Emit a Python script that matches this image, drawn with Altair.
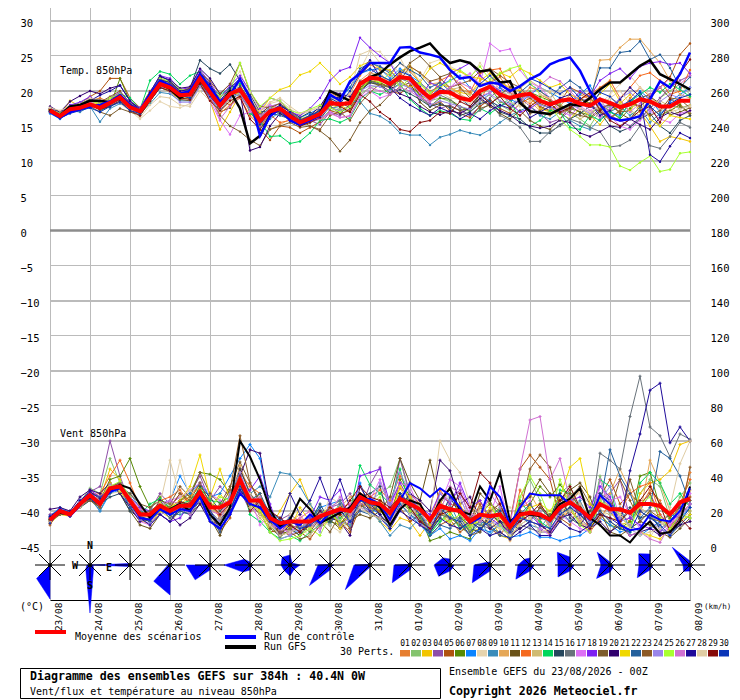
import altair as alt
import pandas as pd

days = ["23/08","24/08","25/08","26/08","27/08","28/08","29/08","30/08","31/08","01/09","02/09","03/09","04/09","05/09","06/09","07/09","08/09"]
palette = ["#e67e30","#84c46e","#f2c500","#8e4ea8","#b0520e","#578a04","#0a84ff","#e6d4ae","#3a8cba","#e5a757","#6a5218","#f5691e","#d0bb72","#00d75c","#26485e","#69737b","#dd70f5","#7d20f2","#7d5c2c","#31006f","#f0d800","#23609c","#8d5a26","#9a85ea","#a8ff30","#d070d2","#1e0a9a","#e0cda4","#860a0a","#0a35b8"]

# 850 hPa temperature, tenths of a degree C, 6-hourly
t_mean = [172,164,174,176,181,176,183,191,177,171,190,210,205, 194,195,218,198,179,196,202,181,157,171,175,164,155, 161,167,183,181,183,210,219,217,210,220,218,202,190, 199,198,190,187,200,206,195,190,194,196,186,181,186, 188,182,179,188,183,177,181,188,185,178,178,186,186]
t_ctrl = [170,162,170,174,178,180,185,194,180,172,195,215,208, 196,200,224,205,185,195,217,190,136,164,175,158,152, 158,165,195,186,214,225,240,240,240,262,263,255,252, 248,230,218,220,207,212,210,200,207,217,224,238,244, 248,229,200,181,162,158,160,164,188,214,205,224,255]
t_gfs = [173,165,178,180,186,186,184,190,180,170,195,210,203, 190,198,215,200,180,200,175,125,136,165,175,165,155, 160,168,200,193,186,210,220,225,238,248,257,262,268, 252,240,244,240,228,230,212,214,183,171,169,167,174, 181,179,190,202,212,212,224,236,244,224,217,210,202]

t01 = [175,166,176,180,186,190,184,193,180,170,188,212,210, 199,200,225,207,184,200,212,190,165,170,176,168,158, 162,176,198,190,196,222,238,230,222,240,228,212,200, 206,195,202,198,186,212,220,198,190,205,200,188,180, 172,195,188,175,182,168,190,205,192,178,170,182,165]
t02 = [171,163,172,175,180,178,186,188,176,172,186,205,200, 192,190,212,195,185,190,200,178,160,178,170,160,150, 155,160,172,175,170,195,205,208,200,212,205,195,186, 190,185,178,170,185,195,180,172,190,200,178,170,182, 168,160,150,172,178,186,170,160,175,190,200,210,195]
t03 = [172,165,186,178,179,174,180,185,172,168,185,206,198, 188,190,212,186,145,170,195,170,150,165,180,170,160, 165,170,175,180,172,205,215,212,205,228,236,210,195, 210,205,198,195,215,225,212,205,200,190,175,170,168, 160,175,165,152,170,182,195,170,150,128,135,132,128]
t04 = [174,167,178,182,190,185,188,195,180,175,195,218,212, 200,198,225,205,190,205,215,190,168,178,182,170,160, 158,152,170,165,175,200,225,235,228,215,205,190,182, 175,180,172,165,178,190,205,196,190,178,168,155,160, 172,185,190,178,165,158,150,162,175,190,205,215,222]
t05 = [174,168,176,182,192,200,218,218,190,176,200,216,212, 198,200,222,208,188,180,195,175,145,130,150,148,140, 148,156,172,168,172,198,215,208,200,196,208,196,178, 185,172,168,162,178,188,175,168,182,190,178,172,185, 205,198,190,175,160,172,182,178,190,205,220,252,268]
t06 = [170,163,175,176,184,172,178,218,185,170,192,214,208, 195,194,216,200,182,195,200,185,162,175,168,160,158, 165,172,176,172,178,205,214,212,205,218,216,192,178, 190,188,178,172,195,205,185,178,188,198,192,186,178, 175,170,165,180,172,160,175,190,178,165,172,180,168]
t07 = [168,160,172,174,176,182,178,186,176,166,186,208,204, 192,192,214,194,176,192,198,176,150,166,180,172,162, 168,176,192,188,205,225,230,232,218,232,222,212,198, 208,215,222,205,190,198,205,188,182,195,205,198,190, 182,195,208,180,170,165,182,200,188,170,185,195,205]
t08 = [176,170,178,180,188,184,190,182,172,160,172,185,178, 176,182,205,192,175,210,228,190,170,182,186,175,165, 172,178,190,184,195,230,258,256,240,225,230,215,240, 245,235,228,218,240,222,200,195,180,172,188,200,195, 190,175,168,182,195,210,222,205,195,172,178,165,170]
t09 = [170,161,172,170,178,156,175,182,178,168,182,198,196, 186,186,208,190,172,190,195,172,148,160,170,162,155, 160,170,175,178,185,185,168,164,155,140,137,137,123, 134,138,144,140,137,145,155,165,172,178,165,160,170, 158,150,145,160,170,178,165,175,155,168,180,175,180]
t10 = [173,166,174,178,184,178,186,192,178,172,192,212,206, 195,196,220,200,182,190,205,188,158,145,152,160,150, 158,172,185,178,190,215,226,222,215,225,235,226,210, 212,205,195,188,200,210,225,230,205,185,172,165,178, 195,188,182,244,245,262,274,274,257,240,215,195,190]
t11 = [172,164,176,175,182,180,190,196,176,172,194,218,202, 198,188,222,204,170,176,208,186,166,180,172,165,150, 156,165,178,184,176,202,212,208,195,206,212,184,172, 180,178,172,176,188,178,168,160,172,158,150,145,160, 178,170,160,172,182,168,160,178,192,182,166,170,176]
t12 = [174,165,175,180,185,176,184,190,178,172,190,208,204, 192,194,214,188,168,180,190,165,150,166,155,158,150, 160,165,178,186,178,208,222,220,205,225,215,205,192, 215,222,210,198,225,230,232,205,190,182,195,188,172, 180,188,195,205,215,190,205,222,226,215,195,200,230]
t13 = [173,165,172,177,183,178,185,191,176,170,188,206,200, 190,192,212,198,176,188,198,182,160,175,178,166,152, 165,172,186,178,185,210,222,226,210,215,222,200,186, 195,202,205,195,210,212,200,192,204,215,205,198,178, 170,160,168,178,190,182,172,165,182,186,178,176,180]
t14 = [172,164,174,178,180,174,180,196,190,174,215,228,224, 210,222,228,205,195,204,210,168,158,135,136,125,128, 140,158,160,155,162,188,200,195,202,210,188,175,165, 172,168,160,158,175,168,178,190,155,150,158,172,170, 148,145,165,158,170,162,185,195,205,198,210,202,192]
t15 = [175,170,178,183,188,180,182,188,176,168,196,216,212, 198,204,244,232,225,238,215,195,170,172,178,172,162, 170,160,178,168,180,200,212,210,198,202,196,188,178, 182,176,165,170,182,186,170,165,160,148,140,140,152, 160,168,178,170,150,142,148,160,168,150,140,158,165]
t16 = [172,165,174,176,180,178,188,194,180,174,192,210,204, 196,198,220,200,182,200,206,180,165,175,170,160,156, 162,170,182,178,186,214,216,208,205,218,212,198,190, 194,188,175,165,172,182,165,158,148,128,128,142,150, 160,155,148,142,120,122,130,150,122,118,135,155,148]
t17 = [171,164,178,172,184,182,186,192,175,170,190,212,208, 200,200,224,186,158,138,165,170,172,180,176,168,155, 156,160,170,162,164,190,200,190,195,222,212,198,185, 195,205,218,225,210,268,257,260,230,212,205,190,172, 165,178,170,190,165,150,145,158,172,160,155,168,172]
t18 = [175,168,180,184,192,182,190,198,184,176,198,222,218, 202,205,230,212,190,208,222,200,175,190,186,170,165, 175,190,215,229,234,276,262,250,240,215,205,190,212, 205,225,232,240,222,210,200,182,170,175,185,178,170, 182,200,192,215,225,232,218,235,240,242,238,240,225]
t19 = [170,163,170,174,178,170,165,175,170,165,185,205,200, 188,186,210,190,165,150,142,130,122,145,150,155,148, 150,143,132,114,130,155,172,180,195,222,240,250,235, 220,225,205,190,175,180,195,205,190,168,172,186,178, 170,165,162,175,180,170,172,190,195,205,190,178,168]
t20 = [178,170,185,193,200,196,204,208,186,174,194,220,216, 204,206,232,218,196,210,198,115,120,150,168,158,150, 165,178,200,196,192,212,216,218,208,196,190,178,170, 166,172,168,176,190,180,172,166,155,150,147,150,158, 155,140,135,142,150,148,160,152,145,162,170,165,172]
t21 = [173,167,178,180,186,180,188,192,178,170,188,206,202, 192,196,216,198,188,198,195,180,170,190,202,207,223, 228,240,226,210,220,236,242,232,230,215,205,212,232, 240,232,228,220,218,212,226,220,232,225,215,205,210, 195,188,182,196,210,185,172,190,160,150,165,162,160]
t22 = [171,163,170,175,182,172,180,188,174,170,186,204,206, 192,194,212,196,178,192,205,185,155,168,165,160,158, 164,172,188,192,205,232,240,235,225,240,230,222,205, 212,200,190,178,195,185,178,185,198,210,200,190,205, 215,205,190,233,233,255,257,271,245,252,233,205,220]
t23 = [174,166,176,178,186,184,192,200,182,172,194,214,208, 200,204,226,214,196,210,240,198,178,176,182,172,158, 150,145,165,170,158,182,198,210,205,215,235,226,214, 218,205,210,215,228,232,222,212,205,190,182,176,168, 175,190,182,170,162,172,185,178,165,172,190,188,176]
t24 = [170,162,172,174,180,176,182,190,176,172,190,208,198, 184,184,206,190,176,190,196,175,162,176,172,165,154, 158,164,176,172,178,200,208,206,200,210,204,192,180, 186,182,178,174,186,196,186,180,188,192,180,176,172, 180,175,168,182,176,190,198,186,170,185,195,190,205]
t25 = [174,168,176,180,186,182,190,196,180,174,196,218,214, 202,200,222,204,192,200,240,200,178,190,186,172,168, 174,180,176,170,178,200,218,212,226,205,218,210,198, 205,214,230,220,235,216,225,232,236,212,195,178,160, 145,135,123,123,120,93,87,98,107,85,88,111,113]
t26 = [172,166,176,178,184,186,186,194,178,170,188,208,206, 196,198,216,194,160,178,192,172,165,172,172,160,152, 158,160,168,162,165,192,205,200,195,205,200,190,185, 196,205,212,205,192,198,210,202,188,195,208,220,214, 200,185,172,162,175,188,170,182,195,205,218,210,222]
t27 = [171,162,172,176,186,194,200,208,186,172,198,222,214, 200,202,226,210,186,204,218,192,160,170,180,170,152, 158,175,192,190,212,228,244,220,205,190,180,172,165, 176,170,160,168,160,172,180,175,188,162,170,178,190, 195,178,182,165,172,188,205,192,109,99,121,140,133]
t28 = [176,172,178,182,190,186,186,190,176,162,180,192,190, 180,178,200,186,170,184,214,198,172,184,190,178,168, 172,176,190,186,196,252,258,240,236,248,220,205,192, 198,190,188,182,196,205,192,184,178,185,195,190,200, 188,176,170,178,190,200,182,172,188,178,170,174,178]
t29 = [173,164,176,176,180,174,178,186,172,165,186,205,200, 190,188,210,186,172,186,192,160,145,165,172,160,150, 155,162,188,178,170,195,185,170,160,145,142,155,158, 170,168,185,178,195,182,192,175,165,178,188,182,170, 176,188,198,172,158,150,160,172,178,155,188,225,245]
t30 = [170,161,168,172,176,170,178,184,172,168,188,212,202, 194,190,214,192,176,192,205,178,152,170,176,168,158, 165,172,190,182,200,225,232,222,215,228,222,206,192, 204,198,192,188,210,222,208,200,206,218,212,204,196, 205,190,178,198,192,178,186,198,178,165,182,190,195]

# 850 hPa wind speed, km/h, 6-hourly
w_mean = [15,20,18,24,29,24,33,34,26,18,18,23,20, 23,23,31,22,22,25,38,26,26,16,13,14,14, 14,17,19,21,20,28,25,24,19,27,24,21,15, 23,21,20,14,18,17,18,11,18,19,18,15,22, 25,21,16,24,21,21,19,24,24,23,18,25,27]
w_ctrl = [15,21,17,23,30,24,31,33,27,16,15,21,18, 21,20,28,14,10,18,30,24,22,15,10,14,12, 18,13,19,20,20,26,27,24,15,26,36,33,28, 33,29,22,13,16,34,28,12,22,30,29,29,29, 24,20,15,29,24,12,9,10,18,15,14,20,33]
w_gfs = [16,19,18,24,28,25,32,35,33,24,16,22,21, 24,20,30,18,12,22,60,51,38,21,11,15,27, 21,13,16,19,22,30,26,22,12,21,26,24,14, 26,33,20,18,34,26,42,14,19,18,17,16,24, 27,33,16,12,6,6,2,9,14,7,8,14,34]

w01 = [14,19,18,22,27,22,32,35,28,20,17,24,22, 26,28,36,24,16,24,38,30,20,12,8,13,16, 20,12,14,18,16,24,22,26,20,33,28,22,14, 24,20,22,16,14,20,12,8,22,24,15,18,26, 30,18,12,28,22,18,14,22,32,26,14,22,42]
w02 = [16,20,19,25,33,30,50,36,26,14,15,26,18, 22,26,32,18,24,26,36,22,28,14,6,9,10, 16,20,12,26,14,30,26,30,34,50,28,20,8, 14,18,10,8,12,14,20,6,28,38,26,10,30, 35,18,12,40,24,14,8,30,38,34,16,28,36]
w03 = [13,18,17,24,28,27,44,38,22,15,12,20,16, 24,28,34,20,30,22,34,28,18,10,20,30,38, 24,10,16,16,10,26,22,14,9,16,14,6,14, 20,12,14,8,10,16,6,4,14,20,12,8,16, 22,14,20,26,20,12,14,30,36,38,43,58,60]
w04 = [18,20,20,24,31,34,60,40,24,18,20,30,24, 28,30,40,26,34,28,32,20,22,20,15,18,14, 10,16,22,24,30,20,35,45,18,50,30,24,12, 18,26,32,16,22,26,14,10,20,16,8,14,28, 24,18,14,22,30,38,16,20,30,18,12,16,24]
w05 = [12,21,18,25,31,28,34,33,24,16,14,24,22, 30,24,34,18,8,16,44,30,20,8,9,6,8, 4,12,18,14,8,22,26,18,10,22,14,18,6, 12,15,8,12,24,10,6,14,44,52,45,38,16, 12,24,8,28,38,24,30,24,30,14,10,18,28]
w06 = [15,19,18,23,30,26,38,40,50,34,22,28,20, 26,30,42,41,38,30,42,24,30,12,5,10,6, 12,16,14,12,18,26,24,20,14,38,28,18,3, 5,8,6,4,22,18,14,8,14,24,34,28,35, 28,16,10,18,12,10,14,40,42,22,16,22,20]
w07 = [17,22,19,26,28,20,30,32,22,20,20,24,26, 40,30,36,28,30,40,50,58,50,20,15,10,8, 16,22,24,26,18,36,22,18,10,24,18,12,6, 10,4,6,3,10,8,12,5,6,8,5,5,3, 5,6,10,16,12,8,10,6,10,14,18,16,22]
w08 = [14,18,18,22,26,22,30,31,25,19,16,20,24, 49,26,25,16,12,24,34,26,24,14,9,18,20, 24,14,28,24,12,26,24,34,26,36,24,20,16, 22,30,26,18,20,16,26,22,16,20,14,7,18, 28,30,24,20,14,10,6,8,5,14,10,16,24]
w09 = [16,20,17,24,27,20,32,34,30,22,16,22,18, 18,20,28,14,16,18,36,30,34,28,42,41,34, 24,16,20,14,12,24,20,14,6,12,10,16,14, 18,24,12,10,14,6,14,8,18,12,10,18,24, 20,26,14,30,18,22,10,14,20,10,14,22,26]
w10 = [15,19,18,23,28,24,33,36,27,17,17,22,20, 25,22,32,24,18,26,46,30,24,18,6,14,18, 10,20,18,22,28,30,22,20,16,22,28,12,8, 20,14,18,8,22,12,18,3,24,30,20,10,26, 24,32,14,28,30,44,32,18,49,36,20,16,32]
w11 = [14,20,19,24,27,22,36,30,20,12,10,18,14, 20,18,24,16,6,20,30,24,18,14,7,12,10, 14,20,15,10,14,18,16,20,28,50,36,26,49, 24,33,16,12,30,24,18,9,24,28,38,30,26, 32,36,28,12,8,6,10,14,12,8,5,10,16]
w12 = [13,19,17,24,29,30,40,49,36,22,18,26,28, 32,24,30,26,16,22,42,34,30,16,10,12,8, 12,18,20,22,24,30,28,32,26,40,30,24,14, 32,24,22,18,26,14,20,6,32,20,14,6,16, 20,14,8,16,24,20,30,34,36,18,10,24,38]
w13 = [16,21,18,24,29,26,35,34,28,18,19,24,24, 22,26,28,20,20,24,36,22,16,10,12,8,14, 10,14,24,16,22,26,22,24,12,34,20,16,8, 18,16,14,10,16,12,10,6,12,16,18,12,20, 22,14,10,20,18,16,12,22,18,14,8,14,20]
w14 = [15,20,18,23,30,25,34,36,26,18,24,27,22, 24,26,33,26,25,28,40,18,14,8,4,6,3, 8,12,18,16,20,46,35,30,24,44,22,16,7, 14,20,10,12,18,16,22,10,26,18,14,10,32, 30,22,14,38,34,10,8,36,42,36,24,30,22]
w15 = [14,18,18,22,26,24,28,30,20,16,14,20,18, 26,22,34,28,20,26,44,30,22,12,16,10,6, 14,24,14,20,16,28,30,34,12,30,22,14,10, 16,28,18,10,8,18,14,12,10,14,22,16,30, 16,12,20,30,26,14,22,16,18,10,6,12,18]
w16 = [16,20,19,24,30,23,33,32,26,20,16,22,20, 24,18,30,20,14,22,34,26,26,14,8,10,12, 16,12,22,26,16,24,20,22,18,26,20,14,12, 18,16,16,14,12,10,8,4,12,10,8,8,14, 20,24,14,53,49,44,74,97,68,63,51,64,61]
w17 = [15,19,18,25,28,24,32,34,24,14,12,24,26, 28,32,36,30,26,24,40,28,12,18,12,6,16, 20,10,24,14,24,28,26,38,22,36,34,20,15, 24,38,34,20,14,18,34,8,22,26,10,6,18, 14,10,8,34,26,28,18,10,14,6,12,20,30]
w18 = [14,21,17,24,32,28,34,36,28,22,20,18,14, 16,24,28,18,12,20,30,32,40,24,8,14,12, 16,28,26,32,10,40,42,44,24,36,26,22,18, 30,24,36,22,26,16,12,8,14,18,12,8,20, 26,28,22,34,28,14,16,12,10,8,14,18,24]
w19 = [15,20,19,22,27,24,31,33,30,24,22,26,24, 34,28,42,30,24,34,48,36,24,10,6,8,4, 6,14,8,18,10,24,18,16,14,30,20,18,10, 20,16,12,6,8,20,24,12,18,14,22,18,14, 28,34,24,20,8,14,38,20,16,14,18,22,26]
w20 = [21,22,20,28,32,30,36,30,22,14,16,26,18, 12,16,24,14,16,20,40,55,53,22,6,12,8, 12,20,16,14,6,34,24,18,12,22,30,26,20, 49,43,24,28,16,10,14,6,10,14,12,8,16, 18,12,10,14,8,12,6,8,10,6,8,12,14]
w21 = [14,19,17,23,29,26,36,31,24,16,15,20,22, 26,34,52,28,44,26,34,24,20,12,14,10,22, 14,18,22,10,18,24,26,20,16,34,28,22,12, 26,18,24,12,14,22,16,10,16,22,24,20,28, 45,50,24,20,14,10,12,8,6,4,10,14,18]
w22 = [16,21,18,25,30,28,30,34,22,17,14,22,16, 20,18,26,16,8,22,32,26,30,18,10,16,10, 14,22,12,24,14,20,18,24,12,24,18,14,6, 12,10,16,8,14,12,6,5,18,24,16,14,20, 14,18,12,24,55,40,30,16,22,54,50,40,24]
w23 = [15,18,19,24,26,22,34,36,26,18,20,24,22, 30,26,36,24,22,32,63,36,26,14,8,10,12, 8,16,20,12,20,28,22,20,18,28,26,16,8, 20,22,20,16,18,24,20,8,20,44,52,45,22, 30,22,16,24,20,38,26,14,20,16,10,16,45]
w24 = [14,20,18,24,29,25,35,33,24,15,13,18,20, 22,24,30,18,14,30,42,28,24,16,4,6,10, 14,8,26,12,16,22,20,36,24,42,30,20,10, 30,26,28,14,18,14,12,7,16,14,20,12,24, 28,20,14,26,34,16,12,8,14,10,6,18,22]
w25 = [15,19,18,23,28,23,34,37,28,19,17,25,21, 24,22,32,22,28,26,36,24,20,8,3,4,6, 10,6,18,14,22,26,24,28,14,28,20,18,8, 16,14,18,10,16,26,12,6,28,40,30,16,38, 22,12,8,26,22,18,10,24,28,16,10,18,16]
w26 = [16,20,17,25,30,26,32,35,27,21,18,22,26, 24,18,28,20,18,28,38,26,28,12,10,8,14, 12,18,20,28,18,24,26,22,14,22,26,12,10, 20,34,30,18,14,30,22,12,44,72,74,38,50, 26,16,10,38,20,14,6,8,4,2,12,18,24]
w27 = [17,21,19,26,31,27,33,34,24,16,12,18,14, 22,20,26,18,10,18,32,24,22,18,14,30,18, 26,39,24,38,22,28,20,16,10,20,16,12,8, 16,12,10,14,10,6,8,4,8,12,6,6,14, 10,8,12,18,16,12,43,64,89,93,59,68,60]
w28 = [14,19,18,22,28,25,34,32,25,17,16,24,49, 28,32,26,14,16,22,36,30,18,12,6,8,10, 6,14,12,8,16,22,18,16,12,26,18,22,16, 60,49,42,24,18,14,10,6,12,16,8,10,18, 20,24,16,22,14,18,10,6,8,10,22,47,60]
w29 = [15,20,18,24,29,24,33,35,26,19,18,23,20, 25,24,30,24,18,24,36,20,26,20,16,12,8, 14,16,22,18,26,34,28,26,22,28,22,14,10, 18,20,30,22,42,36,24,10,14,18,24,16,26, 34,22,10,18,16,14,20,26,34,24,8,16,10]
w30 = [13,20,17,24,27,23,31,33,26,17,15,21,19, 23,21,29,20,12,20,34,24,22,14,12,16,10, 12,16,18,20,14,26,24,22,16,30,24,18,8, 22,16,14,6,10,14,20,8,16,14,12,10,18, 22,18,12,20,14,10,8,20,16,12,6,14,22]

# wind rose petals, px radius per bearing N,NE,E,SE,S,SW,W,NW
rose_radii = [
 [0,0,0,0,34,19,0,0],[0,0,3,5,48,6,3,0],[1,0,1,0,1,2,39,2],[0,0,0,0,30,23,2,0],[2,0,0,0,5,21,24,0],
 [3,0,3,2,5,10,26,8],[10,3,10,6,11,8,9,11],[3,0,4,2,5,29,12,1],[3,0,1,0,2,35,16,1],[3,0,2,2,5,25,16,1],
 [6,0,4,4,6,16,16,10],[3,0,2,2,6,25,16,4],[7,0,4,4,6,20,12,8],[8,0,4,4,6,17,12,18],[3,0,3,4,7,19,9,18],
 [11,0,3,3,5,18,11,16],[4,0,3,2,6,9,7,25]]

legend_items = [("Moyenne des scénarios",75,637),("Run de contrôle",264,637),("Run GFS",264,647),("30 Perts.",340,652),
                ("Temp. 850hPa",60,71),("Vent 850hPa",60,434),("(°C)",20,607),
                ("Vent/flux et température au niveau 850hPa",30,692),("Ensemble GEFS du 23/08/2026 - 00Z",449,672)]
bold_items = [("Diagramme des ensembles GEFS sur 384h : 40.4N 0W",30,677),("Copyright 2026 Meteociel.fr",449,692)]
compass = [("N",90,546),("S",90,586),("W",75,566),("E",109,568)]

FONT = "DejaVu Sans Mono"
ox, oy = 50, 21
xs = alt.Scale(domain=[0,64], nice=False, zero=False)
ys = alt.Scale(domain=[-45,30], nice=False, zero=False)
yr = alt.Scale(domain=[0,300], nice=False, zero=False)
one = pd.DataFrame({"a":[0]})

def X(f="k:Q", **kw): return alt.X(f, scale=xs, axis=None, **kw)
def YL(f="v:Q"): return alt.Y(f, scale=ys, axis=None)

def long(series, div):
    rows = []
    for i, s in enumerate(series):
        for k, v in enumerate(s):
            rows.append({"m": f"{i+1:02d}", "k": k, "v": v/div})
    return pd.DataFrame(rows)

labels = [f"{i+1:02d}" for i in range(30)]
col = alt.Color("m:N", scale=alt.Scale(domain=labels, range=palette), legend=None)

temps = [t01,t02,t03,t04,t05,t06,t07,t08,t09,t10,t11,t12,t13,t14,t15,t16,t17,t18,t19,t20,t21,t22,t23,t24,t25,t26,t27,t28,t29,t30]
winds = [w01,w02,w03,w04,w05,w06,w07,w08,w09,w10,w11,w12,w13,w14,w15,w16,w17,w18,w19,w20,w21,w22,w23,w24,w25,w26,w27,w28,w29,w30]
df_t = long(temps, 10)
df_w = long(winds, 1)
left_axis = alt.Axis(orient="left", values=list(range(-45,35,5)), title=None, domain=False, ticks=False, tickSize=0, grid=False,
                     labelAlign="left", labelPadding=30, labelFont=FONT, labelFontSize=10.5, labelColor="#000", labelOffset=2, labelOverlap=False, labelFlush=False, labelBound=False)
right_axis = alt.Axis(orient="right", values=list(range(0,320,20)), title=None, domain=False, ticks=False, tickSize=0, grid=False,
                      labelAlign="left", labelPadding=20, labelFont=FONT, labelFontSize=10.5, labelColor="#000", labelOffset=2, labelOverlap=False, labelFlush=False, labelBound=False)

label_expr = "[" + ",".join(f"'{d}'" for d in days) + "][datum.value/4]"
bottom_axis = alt.Axis(orient="bottom", values=list(range(0,68,4)), title=None, offset=54, domainColor="#000", domainWidth=1, ticks=False, tickSize=0, grid=False,
                       labelExpr=label_expr, labelAngle=270, labelAlign="right", labelBaseline="top", labelPadding=2, labelOffset=3,
                       labelFont=FONT, labelFontSize=9.5, labelColor="#000", labelOverlap=False, labelFlush=False, labelBound=False)

layers = []
# vertical grid with date axis
layers.append(alt.Chart(pd.DataFrame({"k":list(range(0,68,4))})).mark_rule(color="#bbbbbb", strokeWidth=1, xOffset=0.5)
              .encode(x=alt.X("k:Q", scale=xs, axis=bottom_axis), y=alt.value(-oy), y2=alt.value(600-oy)))
# horizontal grid
thin = [25,15,5,-5,-15,-25,-35,-45]
thick = [30,20,10,-10,-20,-30,-40]
layers.append(alt.Chart(pd.DataFrame({"v":thin})).mark_rule(color="#bbbbbb", strokeWidth=1, yOffset=-0.5)
              .encode(y=YL(), x=alt.value(0), x2=alt.value(640)))
layers.append(alt.Chart(pd.DataFrame({"v":thick})).mark_rule(color="#bbbbbb", strokeWidth=2)
              .encode(y=YL(), x=alt.value(0), x2=alt.value(640)))
layers.append(alt.Chart(pd.DataFrame({"v":[0]})).mark_rule(color="#8c8c8c", strokeWidth=2.5, yOffset=-0.5)
              .encode(y=YL(), x=alt.value(0), x2=alt.value(640)))

# temperature members
layers.append(alt.Chart(df_t).mark_line(strokeWidth=1, interpolate="linear")
              .encode(x=X(), y=alt.Y("v:Q", scale=ys, axis=left_axis), color=col, detail="m:N"))
layers.append(alt.Chart(df_t).mark_point(filled=True, size=6, opacity=1).encode(x=X(), y=YL(), color=col))
# wind members
layers.append(alt.Chart(df_w).mark_line(strokeWidth=1, interpolate="linear")
              .encode(x=X(), y=alt.Y("v:Q", scale=yr, axis=right_axis), color=col, detail="m:N"))
layers.append(alt.Chart(df_w).mark_point(filled=True, shape="cross", size=9, opacity=1)
              .encode(x=X(), y=alt.Y("v:Q", scale=yr, axis=None), color=col))
# GFS, control, mean
for tser, wser, c, sw, sww in [(t_gfs,w_gfs,"#000000",2.5,2),(t_ctrl,w_ctrl,"#0000ff",2.5,2),(t_mean,w_mean,"#ff0000",4,4)]:
    d1 = pd.DataFrame({"k":range(len(tser)),"v":[v/10 for v in tser]})
    d2 = pd.DataFrame({"k":range(len(wser)),"v":wser})
    layers.append(alt.Chart(d1).mark_line(color=c, strokeWidth=sw).encode(x=X(), y=YL()))
    layers.append(alt.Chart(d2).mark_line(color=c, strokeWidth=sww).encode(x=X(), y=alt.Y("v:Q", scale=yr, axis=None)))

# wind roses: positions through the same x and y scales
cy = (231-565)/7
dirs = [(0,-1),(.7071,-.7071),(1,0),(.7071,.7071),(0,1),(-.7071,.7071),(-1,0),(-.7071,-.7071)]
poly = []
for i, radii in enumerate(rose_radii):
    k0 = i*4
    for j in range(9):
        dx, dy = dirs[j % 8]
        r = radii[j % 8]
        poly.append({"rose":i, "o":j, "k":k0 + dx*r/10, "v":cy - dy*r/7})
layers.append(alt.Chart(pd.DataFrame(poly)).mark_line(color="#0000ff", fill="#0000ff", strokeWidth=0.5)
              .encode(x=X(), y=YL(), detail="rose:N", order="o:Q"))
spokes = []
for i in range(len(rose_radii)):
    k0 = i*4
    for dx, dy in [(15,0),(0,15),(11,11),(11,-11)]:
        spokes.append({"k":k0-dx/10,"k2":k0+dx/10,"v":cy+dy/7,"v2":cy-dy/7})
layers.append(alt.Chart(pd.DataFrame(spokes)).mark_rule(color="#000000", strokeWidth=1)
              .encode(x=X(), x2="k2:Q", y=YL(), y2="v2:Q"))
layers.append(alt.Chart(pd.DataFrame({"k":[i*4 for i in range(17)],"v":[cy]*17})).mark_point(filled=True, color="#000000", size=14, opacity=1)
              .encode(x=X(), y=YL()))

def text(t, x, y, size=10, bold=False, align="left"):
    return alt.Chart(one).mark_text(text=t, font=FONT, fontSize=size, fontWeight="bold" if bold else "normal", color="#000", align=align, baseline="middle").encode(
        x=alt.value(x-ox), y=alt.value(y-oy))
def bar(x1, x2, y1, y2, fill, stroke=None):
    kw = {"fill":fill}
    if stroke: kw.update(stroke=stroke, strokeWidth=1)
    return alt.Chart(one).mark_rect(**kw).encode(x=alt.value(x1-ox), x2=alt.value(x2-ox), y=alt.value(y1-oy), y2=alt.value(y2-oy))

for t,x,y in compass:
    layers.append(text(t,x,y,size=10,bold=True,align="center"))
layers.append(bar(35,66,630,634,"#ff0000"))
layers.append(bar(225,256,635,639,"#0000ff"))
layers.append(bar(225,256,645,649,"#000000"))
layers.append(bar(20.5,440.5,668.5,698.5,"#ffffff","#000000"))
for t,x,y in legend_items:
    layers.append(text(t,x,y))
layers.append(text("(km/h)",704,607,size=7.6))
for t,x,y in bold_items:
    layers.append(text(t,x,y,size=11.6,bold=True))
for i,c in enumerate(palette):
    x0 = 400+11*i
    layers.append(bar(x0,x0+10,650,656.5,c))
    layers.append(text(labels[i],x0+5,644,size=8,align="center"))

chart = alt.layer(*layers).resolve_scale(y="independent").resolve_axis(x="independent").properties(
    width=640, height=525,
    padding={"left":42,"top":13,"right":42,"bottom":154},
    autosize=alt.AutoSizeParams(type="none"),
    background="#ffffff",
).configure_view(stroke=None)
chart.save("out.html", embed_options={"renderer": "svg", "actions": False})
